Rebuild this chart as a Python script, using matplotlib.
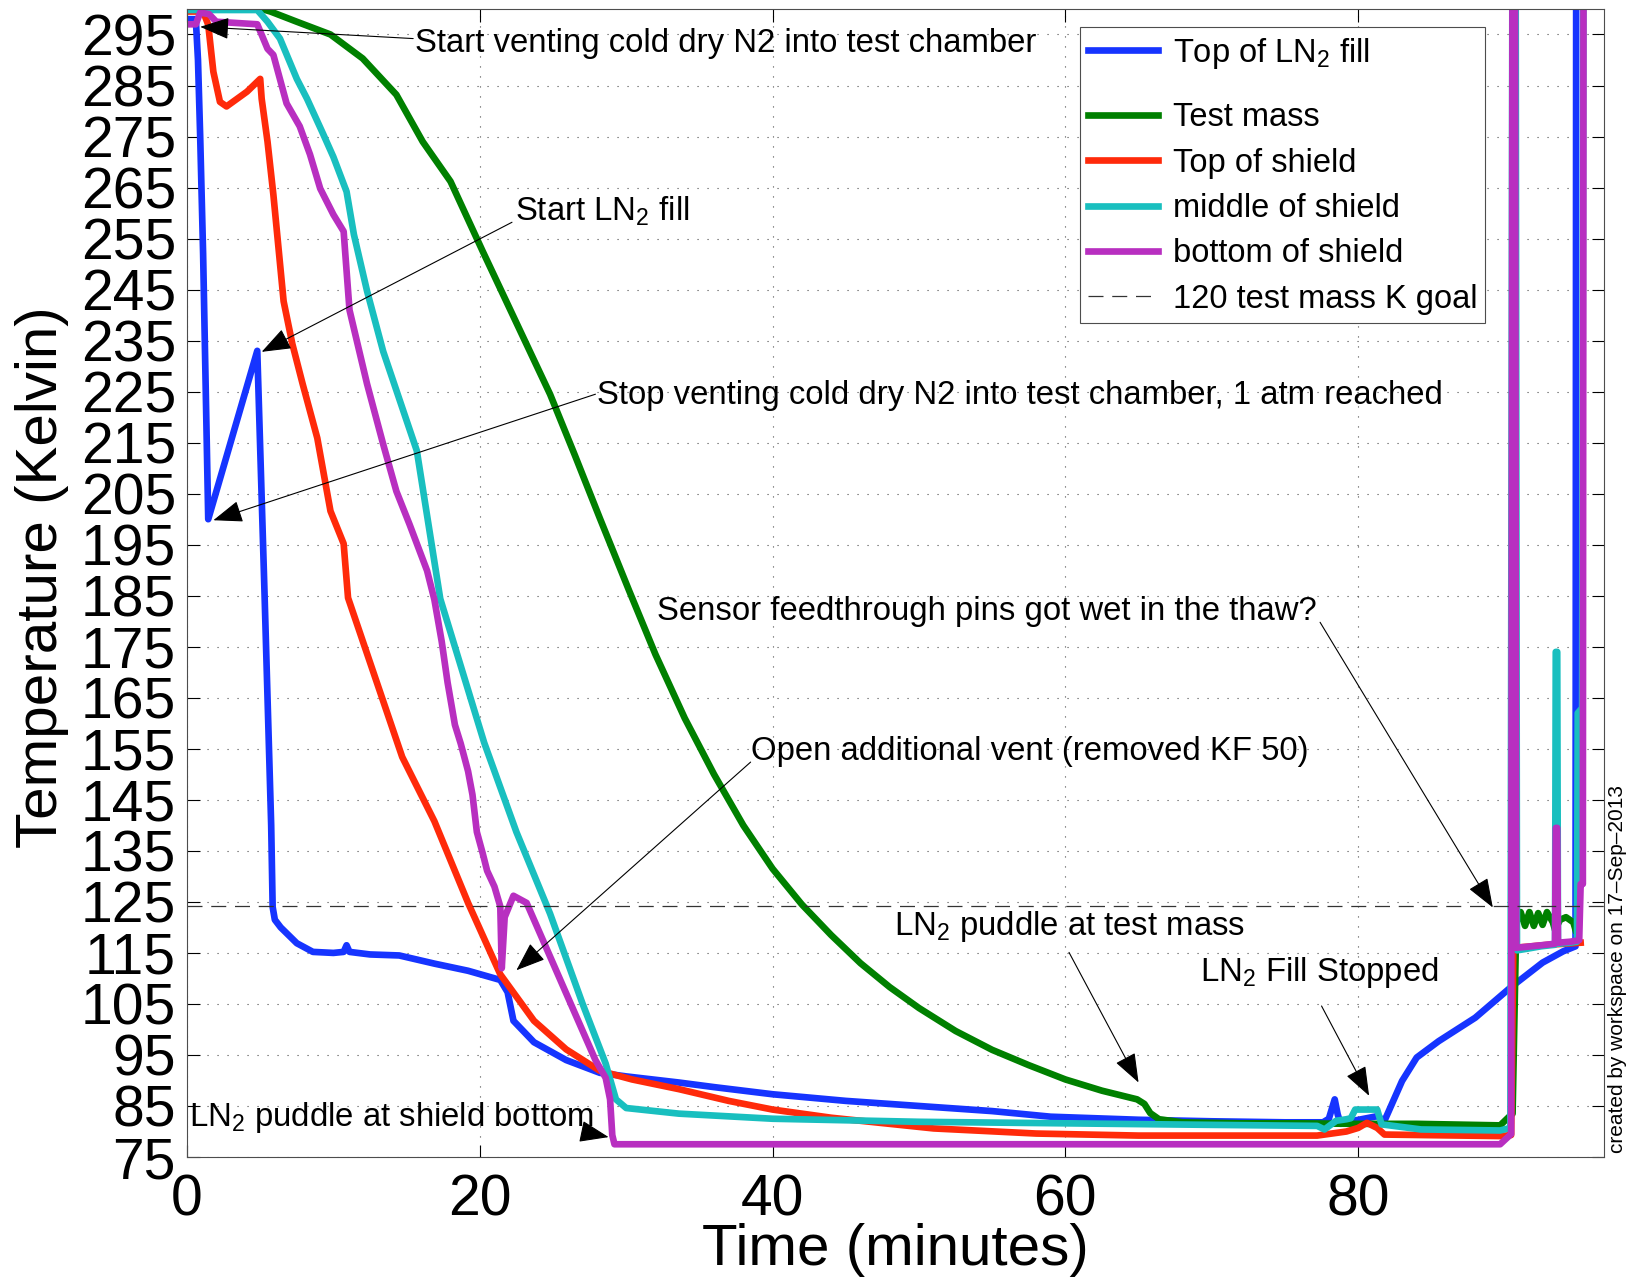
import matplotlib
matplotlib.use('Agg')
import matplotlib.pyplot as plt

plt.rcParams['font.family'] = ['Liberation Sans', 'DejaVu Sans']
plt.rcParams['mathtext.fontset'] = 'custom'
plt.rcParams['mathtext.rm'] = 'Liberation Sans'
plt.rcParams['mathtext.it'] = 'Liberation Sans:italic'

# ---- data (time in minutes, temperature in K) ----
t_fill = [0, 0.6, 0.75, 0.9, 1.1, 1.45, 4.8, 5.3, 5.75, 5.85, 6.0, 6.4, 7.5, 8.6, 10.0,
          10.7, 10.9, 11.1, 12.5, 14.5, 16.9, 19.2, 21.4, 21.9, 22.3, 23.7, 25.9, 28.2,
          30.0, 33.6, 36, 40, 45, 50, 55, 59, 65, 70, 75, 77.6, 78.0, 78.4, 78.6, 78.8,
          79.5, 81.3, 81.8, 83.0, 84.0, 85.5, 88.0, 90.4, 92.6, 94.0, 94.85, 94.9, 96.8]
T_fill = [298, 298, 290, 275, 252, 200, 233, 185, 140, 124, 121.5, 120, 116.9, 115.2, 115.0,
          115.2, 116.5, 115.2, 114.7, 114.5, 112.9, 111.5, 109.7, 107.3, 101.7, 97.5, 94.0, 91.5,
          90.8, 89.6, 88.7, 87.3, 86.0, 85.0, 84.0, 82.9, 82.3, 82.0, 81.8, 81.8, 82.5, 86.3, 83.4, 81.5,
          82.0, 83.0, 82.1, 89.9, 94.5, 97.7, 102.3, 108.2, 113.1, 115.3, 116.3, 330, 330]

t_mass = [0, 4.5, 5.7, 7.5, 9.8, 12.0, 14.3, 16.1, 18.0, 20.2, 22.5, 24.8, 26.5, 28.2, 30.2,
          32.0, 34.0, 36.0, 38.0, 40.0, 42.0, 44.0, 46.0, 48.0, 50.0, 52.5, 55.0, 57.5, 60.0,
          62.5, 64.9, 65.4, 65.8, 66.4, 68, 72, 76, 80, 84, 89.7, 90.35, 90.55, 90.8, 91.1,
          91.4, 91.7, 92.0, 92.3, 92.6, 92.9, 93.3, 93.45, 93.8, 94.2, 94.7, 94.85]
T_mass = [301, 300.5, 299.5, 297.5, 295, 290.3, 283.2, 274, 266.2, 252.5, 238.5, 224.5, 212.5, 200.2, 186,
          173.5, 161, 150, 140, 131.5, 124.5, 118.5, 113, 108.3, 104.2, 99.7, 96, 93, 90.2,
          88, 86.3, 85.4, 83.6, 82.4, 81.8, 81.6, 81.6, 81.5, 81.5, 81.2, 83, 83.5, 121, 123,
          120.3, 123, 120.3, 122.8, 120.5, 123, 121, 119.5, 121.5, 122, 121, 119.5]

t_top = [0, 1.1, 1.45, 1.8, 2.25, 2.7, 4.1, 5.0, 5.1, 5.5, 5.9, 6.6, 7.2, 7.9, 8.9, 9.8,
         10.7, 11.0, 14.7, 16.9, 19.2, 21.4, 23.7, 25.9, 28.2, 30.4, 33.6, 37, 40, 44, 51,
         58, 65, 77.2, 79.2, 80.0, 80.6, 81.3, 81.8, 89.7, 90.45, 90.6, 91.5, 93, 95.2]
T_top = [299.5, 299.5, 296.9, 287.7, 281.8, 280.9, 283.8, 286.3, 282.4, 274, 263.6, 242.7, 234.3, 226.5, 215.9, 201.6,
         195.2, 184.6, 153.4, 140.8, 124.8, 110.8, 101.7, 96.1, 91.9, 90.2, 88.3, 86, 84.3, 82.7, 80.6,
         79.6, 79.2, 79.2, 80.0, 80.7, 81.7, 80.7, 79.4, 79.1, 79.3, 116, 116.2, 116.6, 117]

t_mid = [0, 4.8, 5.5, 6.35, 7.5, 8.2, 9.3, 10.0, 10.9, 11.4, 12.3, 13.4, 15.7, 17.3, 20.3,
         22.5, 24.8, 27.0, 28.6, 29.3, 30.0, 33.6, 40, 50, 60, 70, 77.2, 77.7, 78.5, 79.2,
         79.5, 79.8, 81.3, 81.6, 84.3, 89.7, 90.4, 90.55, 90.75, 90.85, 91.5, 92.5, 93.45,
         93.5, 93.6, 93.65, 94.5, 94.95, 95.0, 95.3, 95.4, 96.8]
T_mid = [299.8, 299.8, 297.5, 294.2, 286.3, 282.4, 275.5, 271, 264.2, 255.8, 244.7, 232.9, 213.4, 184.4, 156.2,
         138.7, 122.7, 105.2, 93.3, 86.3, 84.6, 83.5, 82.5, 81.9, 81.6, 81.3, 81.1, 80.4, 82.1, 82.4,
         82.6, 84.3, 84.3, 81.4, 80.4, 80.2, 80.7, 330, 330, 115.5, 115.8, 116.3, 116.6,
         174, 174, 116.8, 117, 117.2, 162, 163, 330, 330]

t_bot = [0, 0.6, 0.9, 1.5, 2.0, 4.8, 5.5, 5.9, 6.8, 7.7, 8.4, 9.1, 10.0, 10.7, 10.8, 11.1,
         12.3, 13.4, 14.3, 15.2, 16.4, 16.9, 17.4, 17.8, 18.3, 18.7, 19.2, 19.5, 19.8, 20.2,
         20.5, 21.0, 21.4, 21.5, 21.7, 22.3, 23.2, 24.8, 26.4, 27.9, 28.6, 28.9, 29.05, 29.2,
         60, 89.7, 90.45, 90.55, 90.7, 90.8, 91.5, 92.5, 93.45, 93.5, 93.6, 93.65, 94.5,
         95.1, 95.2, 95.35, 95.4, 96.8]
T_bot = [297, 297, 299.3, 299, 297.5, 297, 292.2, 291, 281.5, 277, 271.5, 264.8, 259.7, 256.4, 252.5, 241,
         226.5, 214.7, 205.5, 199, 189.9, 184.2, 176, 168, 159.7, 156, 150.6, 146, 138.7, 134.5,
         131.1, 128, 124.1, 112, 122, 126.2, 124.8, 114.3, 103.8, 94.0, 90.5, 86.3, 79.3, 77.5,
         77.5, 77.5, 79.5, 330, 330, 116, 116.2, 116.5, 116.8, 139.5, 139.5, 117, 117.2,
         117.5, 128.5, 128.5, 330, 330]

goal_K = 124.2

series_labels = ['Top of LN$_\\mathregular{2}$ fill', 'Test mass', 'Top of shield',
                 'middle of shield', 'bottom of shield']
series_colors = ['#1634ff', '#008000', '#ff2a0a', '#19bfbf', '#b82fc0']

# annotations: (text, text x, text baseline y, arrow tail, arrow tip)
notes = [
    ('Start venting cold dry N2 into test chamber', 15.6, 291.6, (15.45, 294.2), (0.9, 296.5)),
    ('Start LN$_\\mathregular{2}$ fill', 22.4, 258.6, (22.2, 258.2), (5.1, 232.8)),
    ('Stop venting cold dry N2 into test chamber, 1 atm reached', 28.0, 222.5, (27.9, 224.5), (1.8, 199.8)),
    ('Sensor feedthrough pins got wet in the thaw?', 32.1, 180.3, (77.4, 179.8), (89.2, 123.9)),
    ('Open additional vent (removed KF 50)', 38.5, 152.8, (38.5, 152.4), (22.5, 111.6)),
    ('LN$_\\mathregular{2}$ puddle at test mass', 48.3, 118.6, (60.25, 115.1), (65.0, 89.6)),
    ('LN$_\\mathregular{2}$ Fill Stopped', 69.2, 109.5, (77.5, 104.6), (80.75, 87.0)),
    ('LN$_\\mathregular{2}$ puddle at shield bottom', 0.15, 81.1, (27.3, 79.8), (28.8, 78.9)),
]

fig = plt.figure(figsize=(16.29, 12.83), dpi=100)
ax = fig.add_axes([0.1148, 0.0982, 0.8699, 0.8948])

all_t = [t_fill, t_mass, t_top, t_mid, t_bot]
all_T = [T_fill, T_mass, T_top, T_mid, T_bot]
for tt, TT, lab, col in zip(all_t, all_T, series_labels, series_colors):
    ax.plot(tt, TT, color=col, lw=4.8, label=lab, solid_joinstyle='round')
ax.axhline(goal_K, color='0.2', lw=0.9, ls=(0, (12, 7)), label='120 test mass K goal')

ax.set_xlim(0, 96.8)
ax.set_ylim(75, 300)
ax.set_xticks([0, 20, 40, 60, 80])
ax.set_yticks(list(range(75, 300, 10)))
ax.tick_params(direction='in', length=9, width=0.8, labelsize=41, top=True, right=True)
ax.tick_params(axis='y', pad=8)
ax.tick_params(axis='x', pad=12)
ax.grid(True, ls=(0, (1, 8)), color='0.3', lw=0.8)
for s in ax.spines.values():
    s.set_linewidth(0.8)
    s.set_color('0.3')

ax.set_xlabel('Time (minutes)', fontsize=42)
ax.xaxis.label.set_va('center')
ax.xaxis.set_label_coords(0.5, -0.081)
ax.set_ylabel('Temperature (Kelvin)', fontsize=42)
ax.yaxis.label.set_va('center')
ax.yaxis.set_label_coords(-0.102, 0.505)

for txt, tx, ty, tail, tip in notes:
    ax.text(tx, ty, txt, fontsize=23.7, ha='left', va='baseline')
    ax.annotate('', xy=tip, xytext=tail,
                arrowprops=dict(arrowstyle='-|>,head_length=0.8,head_width=0.3',
                                color='k', lw=0.8, shrinkA=0, shrinkB=0,
                                mutation_scale=23))

leg = ax.legend(loc='upper left', bbox_to_anchor=(0.630, 0.984), fontsize=23.5,
                fancybox=False, edgecolor='0.3', framealpha=1, handlelength=2.15,
                handletextpad=0.45, labelspacing=0.44, borderpad=0.25, borderaxespad=0)
leg.get_frame().set_linewidth(0.8)
# the first entry sits higher in the original (deep subscript): give it extra room below
first_row = leg._legend_handle_box.get_children()[0].get_children()[0]
first_box = first_row.get_children()[0]
first_box.ydescent += 19
first_box.height += 19

fig.text(0.993, 0.101, 'created by workspace on 17\u2013Sep\u20132013', rotation=90,
         fontsize=15, ha='center', va='bottom')

fig.savefig('out.png', dpi=100)
